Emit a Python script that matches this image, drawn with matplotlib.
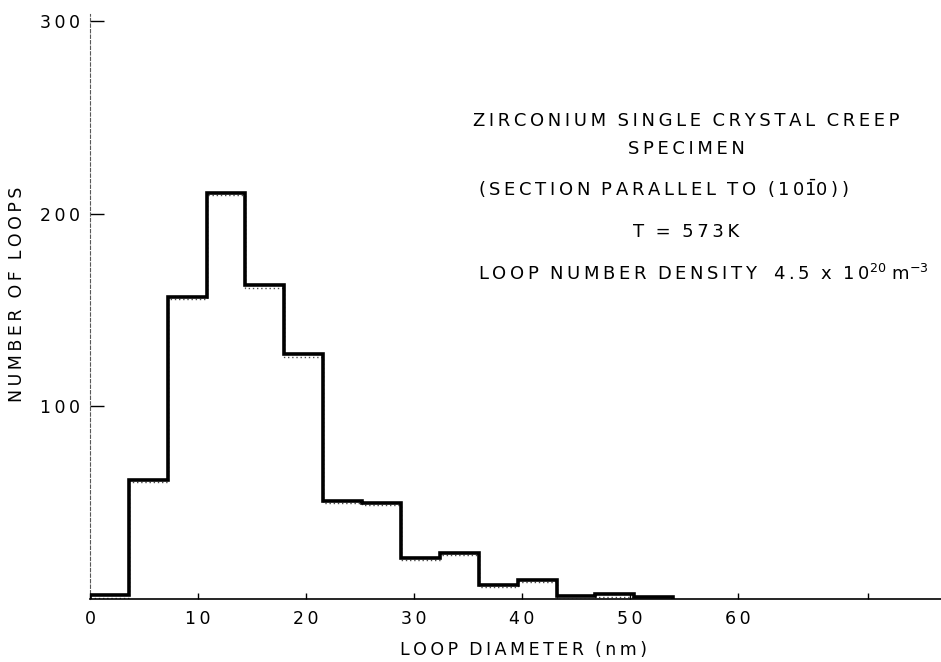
import matplotlib
matplotlib.use("Agg")
import matplotlib.pyplot as plt
from matplotlib.transforms import offset_copy

# ---- data ----
bin_edges = [0, 3.6, 7.2, 10.8, 14.4, 18.0, 21.6, 25.2, 28.8, 32.4, 36.0,
             39.6, 43.2, 46.8, 50.4, 54.0]
loop_counts = [2, 62, 157, 211, 163, 127, 51, 50, 21.5, 24, 7.5, 10, 1.5, 2.5, 1]
x_ticks = [0, 10, 20, 30, 40, 50, 60]
x_tick_labels = ["0", "10", "20", "30", "40", "50", "60"]
y_ticks = [100, 200, 300]
y_tick_labels = ["100", "200", "300"]

plt.rcParams['font.family'] = ['DejaVu Sans']

TS = "\u2009"  # thin space used as letter spacing


def spaced(s):
    return TS.join(s)


fig = plt.figure(figsize=(9.41, 6.62), dpi=100)
ax = fig.add_axes([0.0956, 0.0952, 0.9044, 0.884])

ax.stairs(loop_counts, bin_edges, color='black', lw=2.6, baseline=0, zorder=3)
# stippled inner edge like the plotter trace
inner = offset_copy(ax.transData, fig=fig, x=0, y=-2.5, units='dots')
ax.stairs(loop_counts, bin_edges, color='0.3', lw=1.0, baseline=None,
          linestyle=(0, (1, 2)), transform=inner, zorder=2)

ax.set_xlim(0, 78.8)
ax.set_ylim(0, 304)

ax.spines['top'].set_visible(False)
ax.spines['right'].set_visible(False)
ax.spines['left'].set_linestyle((0, (3, 2)))
ax.spines['left'].set_linewidth(0.8)
ax.spines['left'].set_color('0.35')
ax.spines['bottom'].set_linewidth(1.2)

ax.set_xticks(x_ticks + [72])
ax.set_xticklabels([spaced(t) for t in x_tick_labels] + [""])
ax.set_yticks(y_ticks)
ax.set_yticklabels([spaced(t) for t in y_tick_labels])
ax.tick_params(axis='x', direction='in', length=4, width=1, pad=8, labelsize=12.5)
ax.tick_params(axis='y', direction='in', length=10, width=1, pad=7, labelsize=12.5)

ax.set_xlabel(spaced("LOOP") + "  " + spaced("DIAMETER") + "  " + spaced("(nm)"),
              fontsize=12.5)
ax.xaxis.label.set_verticalalignment('center')
ax.set_ylabel(spaced("NUMBER") + "  " + spaced("OF") + "  " + spaced("LOOPS"),
              fontsize=12.5)
ax.yaxis.set_label_coords(-0.075, 0.52)
ax.xaxis.set_label_coords(0.509, -0.087)

tx = 686 / 941


def ty(py):
    return 1 - py / 662


def sp_words(s):
    return "  ".join(spaced(w) for w in s.split(" "))


fs = 13
fig.text(tx, ty(121), sp_words("ZIRCONIUM SINGLE CRYSTAL CREEP"), ha='center', va='center', fontsize=fs)
fig.text(tx, ty(149), sp_words("SPECIMEN"), ha='center', va='center', fontsize=fs)
fig.text(478 / 941, ty(189), sp_words("(SECTION PARALLEL TO") + "  " + TS.join("(10") + r"$\bar{1}$" + TS.join("0))"),
         ha='left', va='center', fontsize=fs)
fig.text(tx, ty(232), sp_words("T = 573K"), ha='center', va='center', fontsize=fs)
fig.text(478 / 941, ty(274), sp_words("LOOP NUMBER DENSITY") + "   " + TS.join("4.5") + "  x  " + TS.join("10") + r"$^{20}$ m$^{-3}$",
         ha='left', va='center', fontsize=fs)

fig.savefig("out.png", dpi=100)
